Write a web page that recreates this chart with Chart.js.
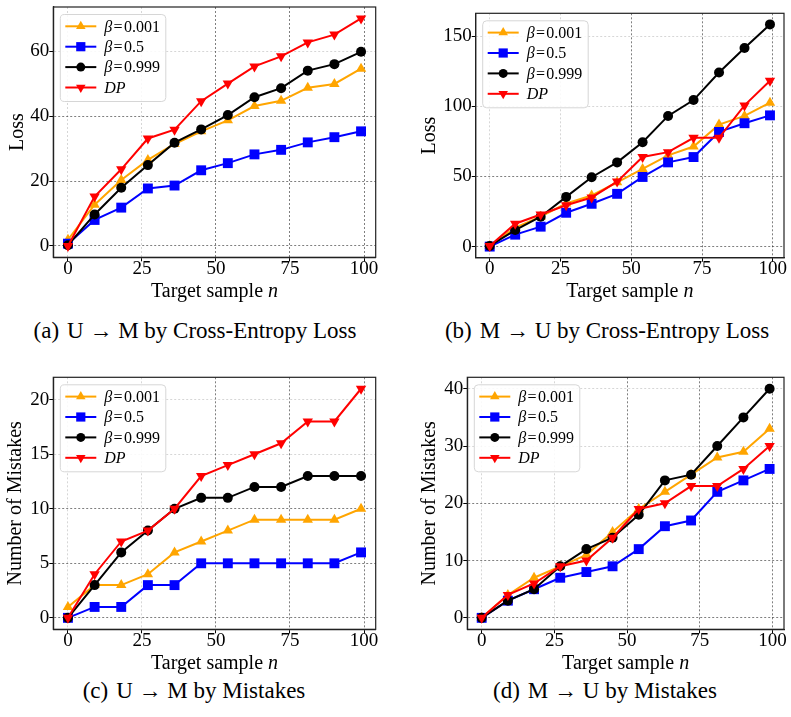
<!DOCTYPE html>
<html>
<head>
<meta charset="utf-8">
<script src="https://cdn.jsdelivr.net/npm/chart.js@4.4.0/dist/chart.umd.min.js"></script>
<style>
  html, body { margin: 0; padding: 0; background: #fff; }
  #wrap { position: relative; width: 791px; height: 717px; overflow: hidden; }
  #wrap canvas { position: absolute; }
  .cap {
    position: absolute; white-space: nowrap; line-height: 1;
    font-family: "Liberation Serif", "DejaVu Serif", serif; font-size: 23px; color: #000;
    transform: translateX(-50%);
  }
  .cap span { margin-right: 8px; }
</style>
</head>
<body>
<div id="wrap">
  <canvas id="panelA" width="395" height="305" style="left:0;top:0;width:395px;height:305px"></canvas>
  <canvas id="panelB" width="396" height="305" style="left:395px;top:0;width:396px;height:305px"></canvas>
  <canvas id="panelC" width="395" height="310" style="left:0;top:365px;width:395px;height:310px"></canvas>
  <canvas id="panelD" width="396" height="310" style="left:395px;top:365px;width:396px;height:310px"></canvas>
  <div class="cap" style="left:195px;top:319px"><span>(a)</span>U → M by Cross-Entropy Loss</div>
  <div class="cap" style="left:607px;top:319px"><span>(b)</span>M → U by Cross-Entropy Loss</div>
  <div class="cap" style="left:194px;top:679px"><span>(c)</span>U → M by Mistakes</div>
  <div class="cap" style="left:605px;top:679px"><span>(d)</span>M → U by Mistakes</div>
</div>
<script>
const xValues = [0, 9, 18, 27, 36, 45, 54, 63, 72, 81, 90, 99];
const xTicks = [0, 25, 50, 75, 100];

// (a) U -> M, cross-entropy loss
const lossUM_b001 = [1.9, 12.7, 20.3, 26.5, 31.4, 35.3, 38.7, 43.1, 44.7, 48.7, 49.9, 54.6];
const lossUM_b05  = [0.7, 8.0, 11.8, 17.7, 18.6, 23.3, 25.5, 28.2, 29.6, 31.9, 33.5, 35.3];
const lossUM_b999 = [0.2, 9.7, 17.9, 24.9, 31.8, 35.9, 40.3, 45.8, 48.6, 54.0, 56.0, 59.8];
const lossUM_dp   = [0.0, 15.2, 23.6, 33.1, 35.8, 44.6, 50.0, 55.3, 58.4, 62.7, 65.1, 70.1];
const yTicksLossUM = [0, 20, 40, 60];

// (b) M -> U, cross-entropy loss
const lossMU_b001 = [0.5, 13.5, 21.3, 30.7, 36.4, 45.8, 55.3, 65.0, 71.3, 86.9, 93.1, 102.5];
const lossMU_b05  = [0.0, 8.5, 14.2, 24.1, 30.5, 37.6, 49.6, 60.0, 63.8, 81.7, 87.9, 93.5];
const lossMU_b999 = [0.5, 11.8, 21.3, 35.4, 49.4, 60.0, 74.4, 93.1, 104.4, 124.0, 141.5, 158.3];
const lossMU_dp   = [0.5, 16.3, 22.9, 29.5, 35.0, 46.3, 63.8, 67.3, 77.5, 77.5, 100.6, 118.1];
const yTicksLossMU = [0, 50, 100, 150];

// (c) U -> M, mistakes
const mistUM_b001 = [1, 3, 3, 4, 6, 7, 8, 9, 9, 9, 9, 10];
const mistUM_b05  = [0, 1, 1, 3, 3, 5, 5, 5, 5, 5, 5, 6];
const mistUM_b999 = [0, 3, 6, 8, 10, 11, 11, 12, 12, 13, 13, 13];
const mistUM_dp   = [0, 4, 7, 8, 10, 13, 14, 15, 16, 18, 18, 21];
const yTicksMistUM = [0, 5, 10, 15, 20];

// (d) M -> U, mistakes
const mistMU_b001 = [0, 4, 7, 9, 11, 15, 19, 22, 25, 28, 29, 33];
const mistMU_b05  = [0, 3, 5, 7, 8, 9, 12, 16, 17, 22, 24, 26];
const mistMU_b999 = [0, 3, 5, 9, 12, 14, 18, 24, 25, 30, 35, 40];
const mistMU_dp   = [0, 4, 6, 9, 10, 14, 19, 20, 23, 23, 26, 30];
const yTicksMistMU = [0, 10, 20, 30, 40];

// legend labels: [text, italic]
const seriesLabels = [
  [['β', true], ['\u200a=\u200a0.001', false]],
  [['β', true], ['\u200a=\u200a0.5', false]],
  [['β', true], ['\u200a=\u200a0.999', false]],
  [['DP', true]]
];

const seriesStyle = [
  { color: '#ffa500', pointStyle: 'triangle', radius: 6, rotation: 0 },
  { color: '#0000ff', pointStyle: 'rect', radius: 7, rotation: 0 },
  { color: '#000000', pointStyle: 'circle', radius: 5, rotation: 0 },
  { color: '#ff0000', pointStyle: 'triangle', radius: 6, rotation: 180 }
];

const SERIF = '"Liberation Serif", "DejaVu Serif", serif';
Chart.defaults.color = '#000';
Chart.defaults.font.family = SERIF;

const LEG = { dx: 7, dy: 7.5, w: 105.5, h: 87, row0: 11.8, rowGap: 20.4 };

function legendBox(area) {
  return { x: area.left + LEG.dx, y: area.top + LEG.dy, w: LEG.w, h: LEG.h };
}

function drawRich(ctx, parts, x, y, size, align) {
  const fonts = parts.map(p => (p[1] ? 'italic ' : '') + size + 'px ' + SERIF);
  let total = 0;
  parts.forEach((p, i) => { ctx.font = fonts[i]; total += ctx.measureText(p[0]).width; });
  let cx = align === 'center' ? x - total / 2 : x;
  ctx.textAlign = 'left';
  parts.forEach((p, i) => {
    ctx.font = fonts[i];
    ctx.fillText(p[0], cx, y);
    cx += ctx.measureText(p[0]).width;
  });
}

const panelDecor = {
  id: 'panelDecor',
  afterDatasetsDraw(chart) {
    const { ctx, chartArea: a } = chart;
    ctx.save();
    // frame
    ctx.strokeStyle = '#222';
    ctx.lineWidth = 1.2;
    ctx.strokeRect(a.left, a.top, a.right - a.left, a.bottom - a.top);

    // legend
    const b = legendBox(a);
    ctx.beginPath();
    ctx.roundRect(b.x, b.y, b.w, b.h, 4);
    ctx.fillStyle = 'rgba(255,255,255,0.85)';
    ctx.fill();
    ctx.strokeStyle = '#d6d6d6';
    ctx.lineWidth = 1;
    ctx.stroke();
    seriesStyle.forEach((s, i) => {
      const ry = b.y + LEG.row0 + i * LEG.rowGap;
      ctx.strokeStyle = s.color;
      ctx.fillStyle = s.color;
      ctx.lineWidth = 2;
      ctx.beginPath();
      ctx.moveTo(b.x + 5, ry);
      ctx.lineTo(b.x + 36, ry);
      ctx.stroke();
      Chart.helpers.drawPoint(ctx, { pointStyle: s.pointStyle, radius: s.radius - 0.5, rotation: s.rotation, borderWidth: 0 }, b.x + 20.5, ry);
      ctx.fillStyle = '#000';
      ctx.textBaseline = 'middle';
      drawRich(ctx, seriesLabels[i], b.x + 44, ry + 1, 16, 'left');
    });

    // x axis title
    ctx.fillStyle = '#000';
    ctx.textBaseline = 'alphabetic';
    drawRich(ctx, [['Target sample ', false], ['n', true]], (a.left + a.right) / 2, a.bottom + 39.2, 20, 'center');
    ctx.restore();
  }
};

function gridColor(axis) {
  return c => {
    const area = c.chart.chartArea;
    if (!area || !c.tick) return 'rgba(0,0,0,0.45)';
    const b = legendBox(area);
    const p = c.scale.getPixelForValue(c.tick.value);
    const hit = axis === 'x' ? (p >= b.x && p <= b.x + b.w) : (p >= b.y && p <= b.y + b.h);
    return hit ? 'rgba(0,0,0,0.16)' : 'rgba(0,0,0,0.5)';
  };
}

function makePanel(id, series, yTicks, yTitle, lay) {
  const xMin = Math.min(...xValues), xMax = Math.max(...xValues);
  const xm = (xMax - xMin) * 0.05;
  const all = series.flat();
  const yMin = Math.min(...all), yMax = Math.max(...all);
  const ym = (yMax - yMin) * 0.05;

  new Chart(document.getElementById(id), {
    type: 'line',
    data: {
      datasets: series.map((vals, i) => ({
        label: seriesLabels[i].map(p => p[0]).join(''),
        data: xValues.map((x, j) => ({ x: x, y: vals[j] })),
        borderColor: seriesStyle[i].color,
        backgroundColor: seriesStyle[i].color,
        borderWidth: 2,
        pointStyle: seriesStyle[i].pointStyle,
        pointRadius: seriesStyle[i].radius,
        pointRotation: seriesStyle[i].rotation,
        pointBorderWidth: 0,
        pointBackgroundColor: seriesStyle[i].color,
        tension: 0,
        order: series.length - 1 - i,
        clip: false
      }))
    },
    options: {
      responsive: false,
      animation: false,
      events: [],
      layout: { padding: { left: 0, top: lay.top, right: lay.right, bottom: 0 } },
      plugins: { legend: { display: false }, tooltip: { enabled: false } },
      scales: {
        x: {
          type: 'linear',
          min: xMin - xm,
          max: xMax + xm,
          afterBuildTicks: s => { s.ticks = xTicks.map(v => ({ value: v })); },
          afterFit: s => { s.height = lay.xh; s.paddingLeft = 0; s.paddingRight = 0; },
          ticks: { font: { size: 19 }, padding: -4, maxRotation: 0, autoSkip: false },
          grid: { color: gridColor('x'), lineWidth: 1, tickColor: '#000', tickLength: 4, tickWidth: 1 },
          border: { display: true, color: '#222', width: 1.2, dash: [2, 2] }
        },
        y: {
          type: 'linear',
          min: yMin - ym,
          max: yMax + ym,
          afterBuildTicks: s => { s.ticks = yTicks.map(v => ({ value: v })); },
          afterFit: s => { s.width = lay.yw; s.paddingTop = 0; s.paddingBottom = 0; },
          ticks: { font: { size: 19 }, padding: 0, autoSkip: false },
          grid: { color: gridColor('y'), lineWidth: 1, tickColor: '#000', tickLength: 4, tickWidth: 1 },
          border: { display: true, color: '#222', width: 1.2, dash: [2, 2] },
          title: { display: true, text: yTitle, font: { size: 20 }, padding: { top: lay.tp, bottom: 0 } }
        }
      }
    },
    plugins: [panelDecor]
  });
}

makePanel('panelA', [lossUM_b001, lossUM_b05, lossUM_b999, lossUM_dp], yTicksLossUM, 'Loss',
  { top: 5.7, right: 19.3, xh: 47.7, yw: 53.3, tp: 6 });
makePanel('panelB', [lossMU_b001, lossMU_b05, lossMU_b999, lossMU_dp], yTicksLossMU, 'Loss',
  { top: 13.3, right: 1.7, xh: 47.3, yw: 80.7, tp: 23 });
makePanel('panelC', [mistUM_b001, mistUM_b05, mistUM_b999, mistUM_dp], yTicksMistUM, 'Number of Mistakes',
  { top: 12.3, right: 19.3, xh: 45.7, yw: 53.3, tp: 3.5 });
makePanel('panelD', [mistMU_b001, mistMU_b05, mistMU_b999, mistMU_dp], yTicksMistMU, 'Number of Mistakes',
  { top: 12.3, right: 1.7, xh: 45.7, yw: 72.3, tp: 23 });
</script>
</body>
</html>
